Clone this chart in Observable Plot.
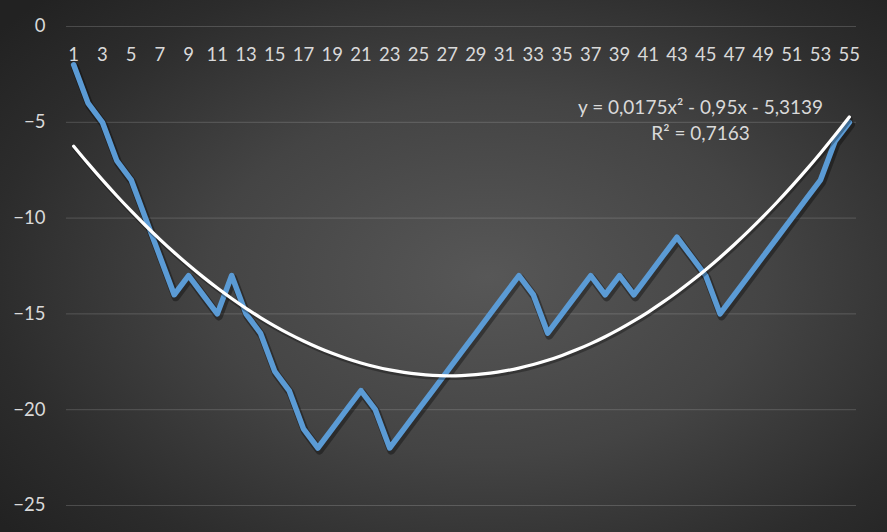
<!DOCTYPE html>
<html>
<head>
<meta charset="utf-8">
<script src="https://cdn.jsdelivr.net/npm/d3@7"></script>
<script src="https://cdn.jsdelivr.net/npm/@observablehq/plot@0.6"></script>
<style>
  html, body { margin: 0; padding: 0; background: #2a2a2a; }
  #chart svg { display: block; }
</style>
</head>
<body>
<div id="chart"></div>
<script>
// ---- data ----
const categories = d3.range(1, 56);
const values = [-2, -4, -5, -7, -8, -10, -12, -14, -13, -14,
                -15, -13, -15, -16, -18, -19, -21, -22, -21, -20,
                -19, -20, -22, -21, -20, -19, -18, -17, -16, -15,
                -14, -13, -14, -16, -15, -14, -13, -14, -13, -14,
                -13, -12, -11, -12, -13, -15, -14, -13, -12, -11,
                -10, -9, -8, -6, -5];
const xTickLabels = [1,3,5,7,9,11,13,15,17,19,21,23,25,27,29,31,33,35,37,39,41,43,45,47,49,51,53,55];
const yTicks = [0, -5, -10, -15, -20, -25];
const equationText = "y = 0,0175x² - 0,95x - 5,3139\nR² = 0,7163";

const data = categories.map((c, i) => ({x: c, y: values[i]}));

// least-squares quadratic fit of the series (trendline)
function quadFit(xs, ys) {
  let S = [0,0,0,0,0], T = [0,0,0];
  xs.forEach((x, i) => {
    const y = ys[i];
    for (let k = 0; k < 5; k++) S[k] += Math.pow(x, k);
    for (let k = 0; k < 3; k++) T[k] += Math.pow(x, k) * y;
  });
  const A = [[S[0],S[1],S[2],T[0]],[S[1],S[2],S[3],T[1]],[S[2],S[3],S[4],T[2]]];
  for (let i = 0; i < 3; i++) {
    for (let j = i + 1; j < 3; j++) {
      const f = A[j][i] / A[i][i];
      for (let k = i; k < 4; k++) A[j][k] -= f * A[i][k];
    }
  }
  const c = [0,0,0];
  for (let i = 2; i >= 0; i--) {
    let s = A[i][3];
    for (let k = i + 1; k < 3; k++) s -= A[i][k] * c[k];
    c[i] = s / A[i][i];
  }
  return c; // c0 + c1 x + c2 x^2
}
const coef = quadFit(categories, values);
const trend = categories.map(x => ({x, y: coef[0] + coef[1]*x + coef[2]*x*x}));

const textColor = "#d9d9d9";
const fontFamily = "Lato, 'Open Sans', sans-serif";

const chart = Plot.plot({
  width: 887,
  height: 532,
  marginLeft: 66,
  marginRight: 31,
  marginTop: 26,
  marginBottom: 27,
  style: {
    background: "radial-gradient(ellipse 70% 75% at 55% 52%, #575757 0%, #444 45%, #2c2c2c 80%, #222 100%)",
    fontFamily: fontFamily,
    color: textColor
  },
  x: {domain: [0.5, 55.5], axis: null},
  y: {domain: [-25, 0]},
  marks: [
    Plot.ruleY(yTicks, {x1: 0.5, x2: 55.5, stroke: "#ffffff", strokeOpacity: 0.17, strokeWidth: 1}),
    Plot.axisY(yTicks, {tickSize: 0, tickPadding: 21, fontSize: 18.5, fill: textColor, label: null}),
    Plot.text(xTickLabels, {x: d => d, y: 0, dy: 29, text: d => String(d), fontSize: 18.5, fill: textColor}),
    // shadow of series line
    Plot.line(data, {x: "x", y: "y", stroke: "#000", strokeOpacity: 0.35, strokeWidth: 8, dx: 1.5, dy: 2.5, strokeLinejoin: "round"}),
    Plot.line(data, {x: "x", y: "y", stroke: "#5b9bd5", strokeWidth: 5.5, strokeLinejoin: "round", strokeLinecap: "round"}),
    // trendline
    Plot.line(trend, {x: "x", y: "y", stroke: "#000", strokeOpacity: 0.3, strokeWidth: 4.5, dx: 1, dy: 2, curve: "catmull-rom"}),
    Plot.line(trend, {x: "x", y: "y", stroke: "#ffffff", strokeWidth: 3.25, curve: "catmull-rom", strokeLinecap: "round"}),
    Plot.text([equationText], {frameAnchor: "top-right", dx: -156, dy: 92.5, textAnchor: "middle", lineAnchor: "middle", lineHeight: 1.37, fontSize: 19, fill: textColor})
  ]
});
document.getElementById("chart").appendChild(chart);
</script>
</body>
</html>
